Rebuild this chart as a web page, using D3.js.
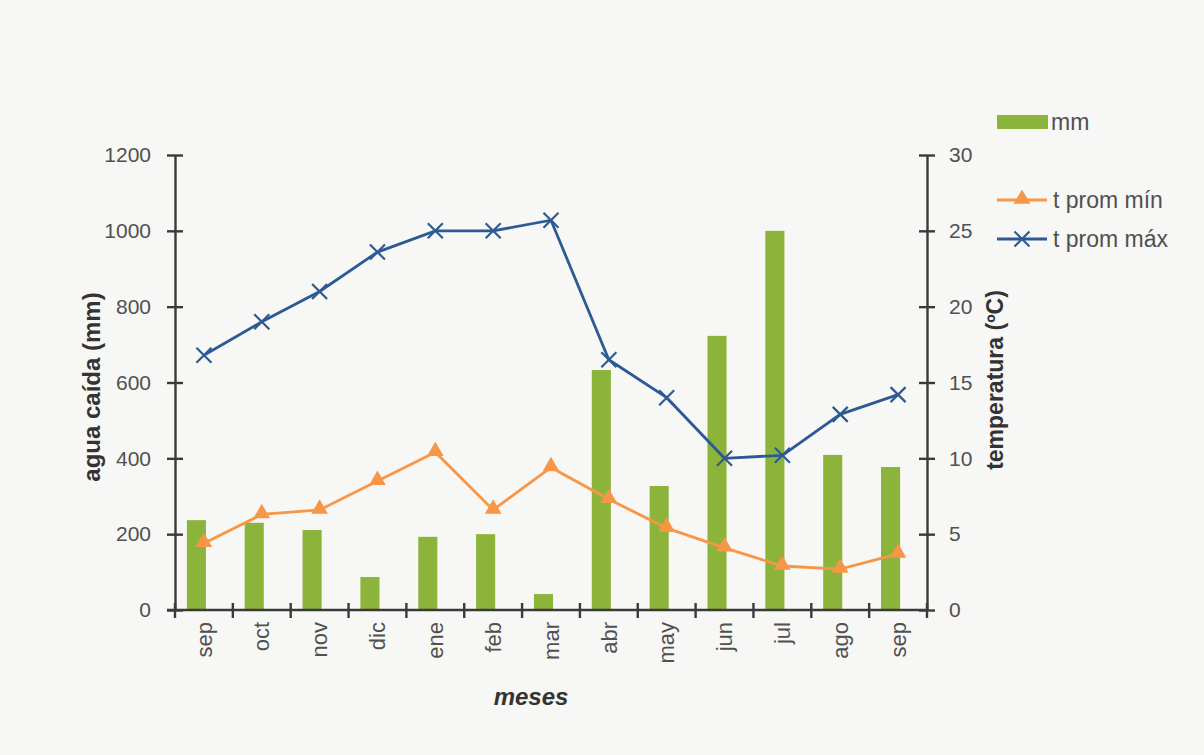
<!DOCTYPE html>
<html>
<head>
<meta charset="utf-8">
<script src="https://cdn.jsdelivr.net/npm/d3@7"></script>
<style>
  html, body { margin: 0; padding: 0; background: #f7f7f5; }
  svg { display: block; }
  text { font-family: "Liberation Sans", Arial, sans-serif; }
</style>
</head>
<body>
<script>
// Monthly rainfall (mm) and mean min / max temperatures (°C)
const months = ["sep", "oct", "nov", "dic", "ene", "feb", "mar", "abr", "may", "jun", "jul", "ago", "sep"];
const rainMm = [237, 230, 211, 87, 193, 200, 42, 633, 327, 723, 1000, 409, 377];
const tMin = [4.4, 6.3, 6.6, 8.5, 10.4, 6.6, 9.4, 7.3, 5.4, 4.1, 2.9, 2.7, 3.7];
const tMax = [16.8, 19.0, 21.0, 23.6, 25.0, 25.0, 25.7, 16.5, 14.0, 10.0, 10.2, 12.9, 14.2];
const rainTicks = [0, 200, 400, 600, 800, 1000, 1200];
const tempTicks = [0, 5, 10, 15, 20, 25, 30];

const W = 1204, H = 755;
const plot = { left: 175, right: 927, top: 155, bottom: 610 };

const colors = { bar: "#8db43a", min: "#f79646", max: "#2d5a92", axis: "#3a3a3a", text: "#505050" };

const svg = d3.select("body").append("svg").attr("width", W).attr("height", H);

const idx = d3.range(months.length);
const x = d3.scaleBand().domain(idx).range([plot.left, plot.right]).padding(0);
const yRain = d3.scaleLinear().domain([0, 1200]).range([plot.bottom, plot.top]);
const yTemp = d3.scaleLinear().domain([0, 30]).range([plot.bottom, plot.top]);
const bw = x.bandwidth();

// Rainfall bars
svg.append("g").selectAll("rect").data(idx).join("rect")
  .attr("x", i => x(i) + bw * 0.205)
  .attr("width", bw * 0.33)
  .attr("y", i => yRain(rainMm[i]))
  .attr("height", i => yRain(0) - yRain(rainMm[i]))
  .attr("fill", colors.bar);

// Axes with ticks crossing the axis line
function styleAxis(g, cross) {
  g.select(".domain").attr("stroke", colors.axis).attr("stroke-width", 2.4);
  g.selectAll(".tick line").attr("stroke", colors.axis).attr("stroke-width", 2.4);
  g.selectAll(".tick text").attr("fill", colors.text).style("font-size", "21px")
    .style("font-family", "'Liberation Sans', Arial, sans-serif");
  cross(g.selectAll(".tick line"));
}

svg.append("g").attr("transform", `translate(${plot.left},0)`)
  .call(d3.axisLeft(yRain).tickValues(rainTicks).tickFormat(d3.format("d"))
    .tickSize(8).tickSizeOuter(0).tickPadding(16))
  .call(g => styleAxis(g, l => l.attr("x1", 8)));

svg.append("g").attr("transform", `translate(${plot.right},0)`)
  .call(d3.axisRight(yTemp).tickValues(tempTicks).tickFormat(d3.format("d"))
    .tickSize(8).tickSizeOuter(0).tickPadding(14))
  .call(g => styleAxis(g, l => l.attr("x1", -8)));

// Category axis: ticks on the band edges, labels rotated
const xAxisG = svg.append("g").attr("transform", `translate(0,${plot.bottom})`);
xAxisG.append("line")
  .attr("x1", plot.left - 8).attr("x2", plot.right)
  .attr("stroke", colors.axis).attr("stroke-width", 2.4);
xAxisG.selectAll("line.tk").data(d3.range(months.length + 1)).join("line").attr("class", "tk")
  .attr("x1", i => plot.left + i * bw).attr("x2", i => plot.left + i * bw)
  .attr("y1", -7).attr("y2", 8)
  .attr("stroke", colors.axis).attr("stroke-width", 2.4);
xAxisG.selectAll("text").data(idx).join("text")
  .attr("transform", i => `translate(${x(i) + bw / 2},12) rotate(-90)`)
  .attr("text-anchor", "end").attr("dy", "0.35em")
  .attr("fill", colors.text).style("font-size", "22px")
  .text(i => months[i]);

// Temperature lines
const cx = i => x(i) + bw / 2;
const tempLine = d3.line().x((d, i) => cx(i)).y(d => yTemp(d));
svg.append("path").datum(tMin).attr("d", tempLine)
  .attr("fill", "none").attr("stroke", colors.min).attr("stroke-width", 2.8);
const tri = d3.symbol().type(d3.symbolTriangle).size(120);
svg.append("g").selectAll("path").data(tMin).join("path")
  .attr("d", tri)
  .attr("transform", (d, i) => `translate(${cx(i)},${yTemp(d) - 1})`)
  .attr("fill", colors.min);

svg.append("path").datum(tMax).attr("d", tempLine)
  .attr("fill", "none").attr("stroke", colors.max).attr("stroke-width", 2.8);
function cross(sel, s) {
  sel.append("path")
    .attr("d", `M${-s},${-s}L${s},${s}M${-s},${s}L${s},${-s}`)
    .attr("stroke", colors.max).attr("stroke-width", 2.2).attr("fill", "none");
}
svg.append("g").selectAll("g").data(tMax).join("g")
  .attr("transform", (d, i) => `translate(${cx(i)},${yTemp(d)})`)
  .call(g => cross(g, 7.5));

// Axis titles
svg.append("text")
  .attr("transform", `translate(100,387) rotate(-90)`)
  .attr("text-anchor", "middle").attr("fill", "#333")
  .style("font-size", "24px").style("font-weight", "bold")
  .text("agua caída (mm)");
svg.append("text")
  .attr("transform", `translate(1003,380) rotate(-90)`)
  .attr("text-anchor", "middle").attr("fill", "#333")
  .style("font-size", "23px").style("font-weight", "bold")
  .text("temperatura (ºC)");
svg.append("text")
  .attr("x", 531).attr("y", 705)
  .attr("text-anchor", "middle").attr("fill", "#333")
  .style("font-size", "24px").style("font-weight", "bold").style("font-style", "italic")
  .text("meses");

// Legend
const legend = svg.append("g");
legend.append("rect").attr("x", 997).attr("y", 115).attr("width", 51).attr("height", 14).attr("fill", colors.bar);
legend.append("text").attr("x", 1051).attr("y", 130).attr("fill", colors.text).style("font-size", "23px").text("mm");

legend.append("line").attr("x1", 997).attr("x2", 1047).attr("y1", 200).attr("y2", 200)
  .attr("stroke", colors.min).attr("stroke-width", 2.8);
legend.append("path").attr("d", tri).attr("transform", "translate(1022,199)").attr("fill", colors.min);
legend.append("text").attr("x", 1053).attr("y", 208).attr("fill", colors.text).style("font-size", "23px").text("t prom mín");

legend.append("line").attr("x1", 997).attr("x2", 1047).attr("y1", 239).attr("y2", 239)
  .attr("stroke", colors.max).attr("stroke-width", 2.8);
legend.append("g").attr("transform", "translate(1022,239)").call(g => cross(g, 7.5));
legend.append("text").attr("x", 1053).attr("y", 247).attr("fill", colors.text).style("font-size", "23px").text("t prom máx");
</script>
</body>
</html>
